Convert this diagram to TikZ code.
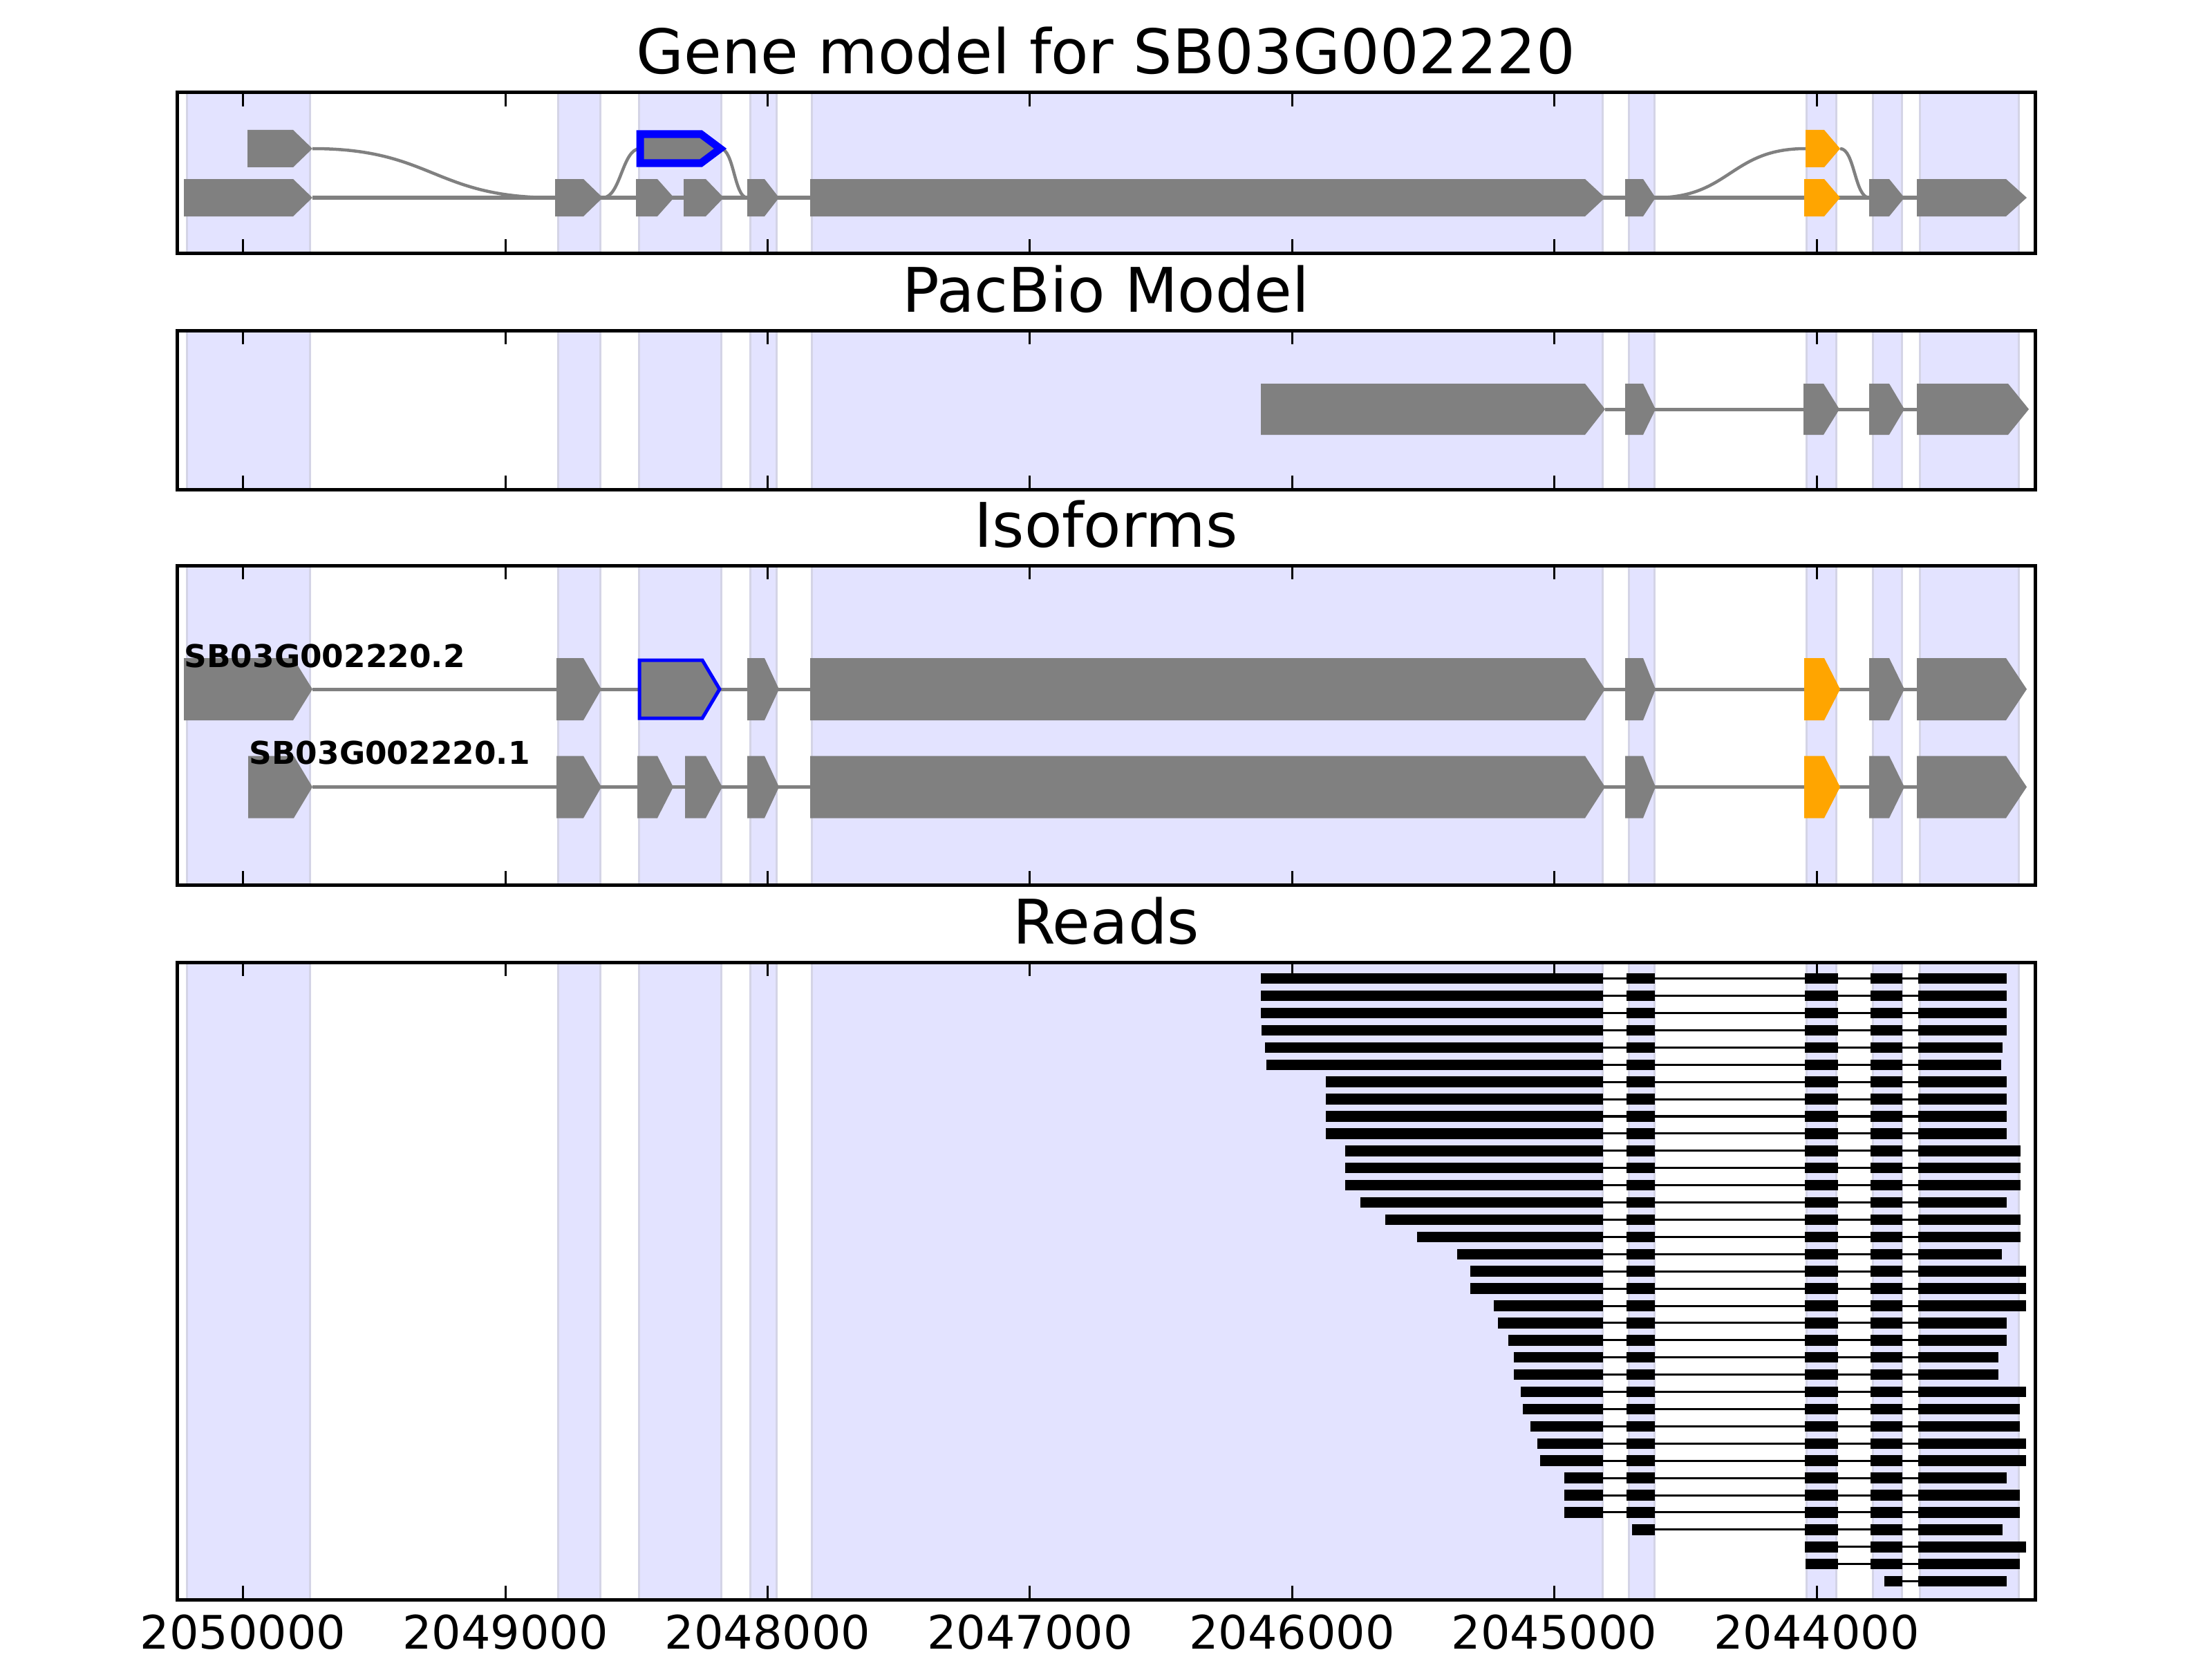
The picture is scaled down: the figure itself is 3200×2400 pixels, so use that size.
\documentclass[tikz,border=0pt]{standalone}
\usepackage{fontspec}
\setmainfont{DejaVu Sans}
\definecolor{bandfill}{RGB}{227,227,255}
\definecolor{bandedge}{RGB}{212,212,230}
\definecolor{exongray}{RGB}{128,128,128}
\definecolor{exonorange}{RGB}{255,165,0}

% exon arrow: [colour]{start}{point start}{tip}{y}{half height}
\newcommand{\exon}[6][exongray]{%
  \fill[#1] (#2,{#5-#6}) -- (#3,{#5-#6}) -- (#4,#5) -- (#3,{#5+#6}) -- (#2,{#5+#6}) -- cycle;}
% shaded exon regions of one panel: {top}{bottom}
\newcommand{\bands}[2]{%
  \foreach \bl/\br in {270/448,807/868,924/1043,1085/1123,1174/2318,2356/2393,2613/2656,2709/2751,2777/2920}
    \draw[band] (\bl,#1) rectangle (\br,#2);}
% axes box with inward ticks: {top}{bottom}
\newcommand{\panelbox}[2]{%
  \foreach \k in {0,...,6}{
    \pgfmathsetmacro{\tx}{351.6+379.4*\k}
    \draw[tickmark] (\tx,#1) -- ++(0,20);
    \draw[tickmark] (\tx,#2) -- ++(0,-20);
  }
  \draw[frame] (256,#1) rectangle (2944,#2);}
% exons shared by the gene model and both isoforms: {y}{half height}
\newcommand{\tailexons}[2]{%
  \exon{1081}{1106}{1127}{#1}{#2}
  \exon{1172}{2293}{2322}{#1}{#2}
  \exon{2351}{2377}{2395}{#1}{#2}
  \exon[exonorange]{2610}{2639}{2662}{#1}{#2}
  \exon{2704}{2733}{2755}{#1}{#2}
  \exon{2773}{2902}{2932}{#1}{#2}}
% one read: {y}{start}{end}
\newcommand{\readrow}[3]{%
  \draw[intronread] (#2,#1) -- (#3,#1);
  \foreach \segL/\segR in {0/2319,2353/2394,2611/2659,2706/2752,2775/9999}{
    \pgfmathsetmacro{\rlo}{max(#2,\segL)}
    \pgfmathsetmacro{\rhi}{min(#3,\segR)}
    \ifdim\rlo pt<\rhi pt \draw[exonread] (\rlo,#1) -- (\rhi,#1); \fi
  }}

\begin{document}
\begin{tikzpicture}[x=0.01cm,y=-0.01cm,
  band/.style={fill=bandfill,draw=bandedge,line width=0.3mm},
  intron/.style={draw=exongray,line width=0.5mm},
  splice/.style={draw=exongray,line width=0.45mm},
  exonread/.style={line width=1.55mm,line cap=butt},
  intronread/.style={line width=0.3mm},
  frame/.style={line width=0.5mm},
  tickmark/.style={line width=0.3mm},
  paneltitle/.style={font=\fontsize{25.3pt}{30pt}\selectfont,inner sep=0pt,anchor=base},
  ticklabel/.style={font=\fontsize{19pt}{23pt}\selectfont,inner sep=0pt,anchor=base},
  isolabel/.style={font=\fontsize{12.9pt}{15pt}\selectfont\bfseries,inner sep=0pt,anchor=base west}]
  \useasboundingbox[fill=white] (0,0) rectangle (3200,2400);

  % gene model
  \node[paneltitle] (title1) at (1600,107) {Gene model for SB03G002220};
  \bands{134}{366}
  \draw[intron] (452,286) -- (2773,286);
  \draw[splice] (452,215) .. controls (626,215) and (627,286) .. (801,286);
  \draw[splice] (872,286) .. controls (898,286) and (900,215) .. (926,215);
  \draw[splice] (1042,215) .. controls (1062,215) and (1062,286) .. (1081,286);
  \draw[splice] (2395,286) .. controls (2503,286) and (2503,215) .. (2612,215);
  \draw[splice] (2662,215) .. controls (2683,215) and (2683,286) .. (2704,286);
  \exon{358}{424}{452}{215}{27}
  \filldraw[fill=exongray,draw=blue,line width=1.1mm,line join=miter]
    (926,194) -- (1014,194) -- (1042,215) -- (1014,236) -- (926,236) -- cycle;
  \exon[exonorange]{2612}{2639}{2662}{215}{27}
  \exon{266}{424}{452}{286}{27}
  \exon{803}{844}{872}{286}{27}
  \exon{920}{951}{975}{286}{27}
  \exon{989}{1021}{1047}{286}{27}
  \tailexons{286}{27}
  \panelbox{134}{366}

  % pacbio
  \node[paneltitle] (title2) at (1600,451) {PacBio Model};
  \bands{478}{708}
  \draw[intron] (2322,592) -- (2773,592);
  \exon{1824}{2293}{2322}{592}{37}
  \exon{2351}{2377}{2395}{592}{37}
  \exon{2609}{2638}{2661}{592}{37}
  \exon{2704}{2733}{2755}{592}{37}
  \exon{2773}{2905}{2935}{592}{37}
  \panelbox{478}{708}

  % isoforms
  \node[paneltitle] (title3) at (1600,791) {Isoforms};
  \bands{818}{1280}
  \draw[intron] (452,997) -- (2773,997);
  \draw[intron] (452,1138.5) -- (2773,1138.5);
  \exon{266}{424}{452}{997}{45}
  \exon{805}{844}{870}{997}{45}
  \filldraw[fill=exongray,draw=blue,line width=0.5mm,line join=miter]
    (925,955) -- (1016,955) -- (1041,997) -- (1016,1039) -- (925,1039) -- cycle;
  \tailexons{997}{45}
  \exon{359}{425}{452}{1138.5}{45}
  \exon{805}{844}{870}{1138.5}{45}
  \exon{922}{951}{974}{1138.5}{45}
  \exon{991}{1021}{1045}{1138.5}{45}
  \tailexons{1138.5}{45}
  \node[isolabel] (iso2) at (266,965) {SB03G002220.2};
  \node[isolabel] (iso1) at (360,1105) {SB03G002220.1};
  \panelbox{818}{1280}

  % reads
  \node[paneltitle] (title4) at (1600,1365) {Reads};
  \bands{1392}{2314}
  \foreach \rs/\re [count=\i] in {1824/2903,1824/2903,1824/2903,1825/2903,1830/2897,1832/2895,
      1918/2903,1918/2903,1918/2903,1918/2903,1946/2923,1946/2923,1946/2923,1968/2903,
      2004/2923,2050/2923,2108/2896,2127/2931,2127/2931,2161/2931,2167/2903,2182/2903,
      2190/2891,2190/2891,2200/2931,2203/2922,2214/2922,2224/2931,2228/2931,2263/2903,
      2263/2922,2263/2922,2361/2897,2611/2931,2612/2922,2726/2903}{
    \pgfmathsetmacro{\ry}{1415.7+24.91*(\i-1)}
    \readrow{\ry}{\rs}{\re}
  }
  \panelbox{1392}{2314}
  \foreach \k/\lab in {0/2050000,1/2049000,2/2048000,3/2047000,4/2046000,5/2045000,6/2044000}
    \node[ticklabel] (tick\k) at ({351.6+379.4*\k},2385) {\lab};
\end{tikzpicture}
\end{document}
